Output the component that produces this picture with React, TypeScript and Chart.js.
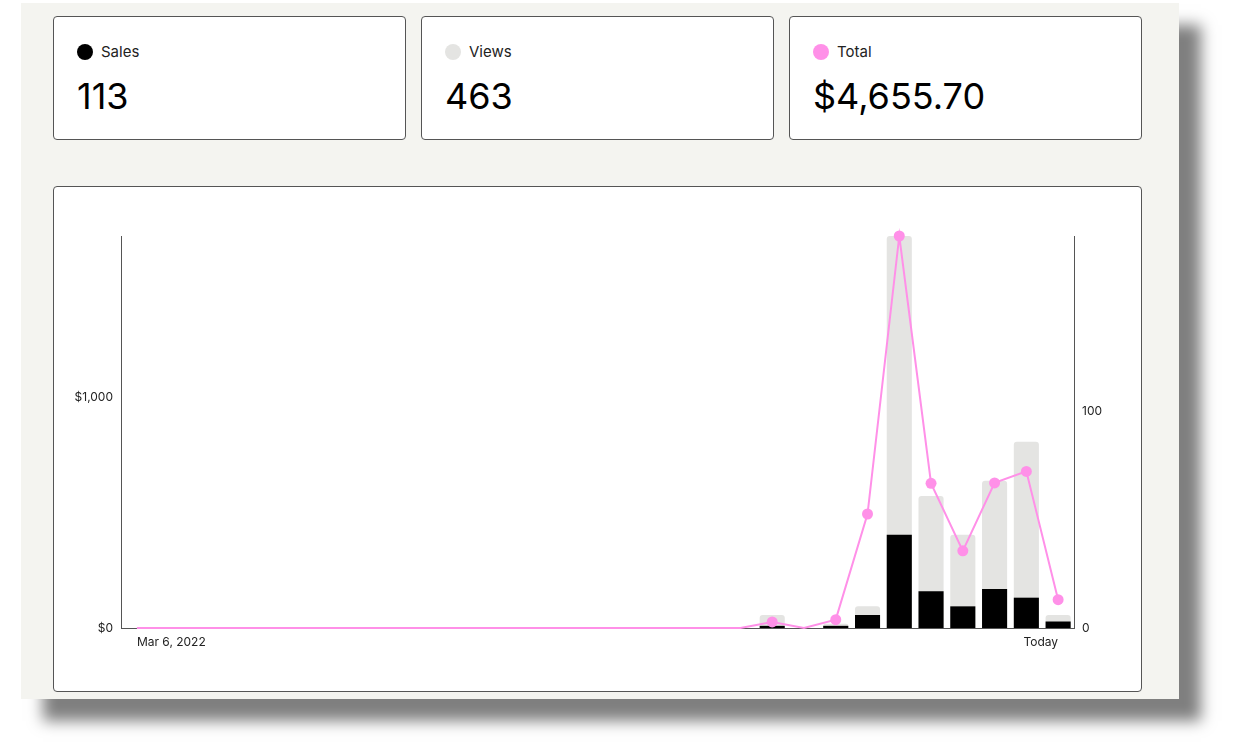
import React, { useEffect, useRef } from "react";
import { Chart, registerables } from "chart.js";

Chart.register(...registerables);

const dateLabels = [
  "Mar 6, 2022", "Mar 7, 2022", "Mar 8, 2022", "Mar 9, 2022", "Mar 10, 2022",
  "Mar 11, 2022", "Mar 12, 2022", "Mar 13, 2022", "Mar 14, 2022", "Mar 15, 2022",
  "Mar 16, 2022", "Mar 17, 2022", "Mar 18, 2022", "Mar 19, 2022", "Mar 20, 2022",
  "Mar 21, 2022", "Mar 22, 2022", "Mar 23, 2022", "Mar 24, 2022", "Mar 25, 2022",
  "Mar 26, 2022", "Mar 27, 2022", "Mar 28, 2022", "Mar 29, 2022", "Mar 30, 2022",
  "Mar 31, 2022", "Apr 1, 2022", "Apr 2, 2022", "Apr 3, 2022", "Today",
];

const views = [
  0, 0, 0, 0, 0, 0, 0, 0, 0, 0,
  0, 0, 0, 0, 0, 0, 0, 0, 0, 0,
  6, 0, 2, 10, 181, 61, 43, 68, 86, 6,
];

const sales = [
  0, 0, 0, 0, 0, 0, 0, 0, 0, 0,
  0, 0, 0, 0, 0, 0, 0, 0, 0, 0,
  1, 0, 1, 6, 43, 17, 10, 18, 14, 3,
];

const totals = [
  0, 0, 0, 0, 0, 0, 0, 0, 0, 0,
  0, 0, 0, 0, 0, 0, 0, 0, 0, 0,
  26.5, 0, 36.2, 495, 1702, 628, 335, 630, 680, 123,
];

const leftTicks = [0, 1000];
const rightTicks = [0, 100];

const cardLabels = ["Sales", "Views", "Total"];
const cardValues = ["113", "463", "$4,655.70"];

const PINK = "#ff90e8";
const GRAY = "#e4e4e2";
const cardDots = ["#000000", GRAY, PINK];

const FONT = "Inter, 'Noto Sans', sans-serif";

export default function App() {
  const ref = useRef<HTMLCanvasElement>(null);

  useEffect(() => {
    const n = dateLabels.length;
    const chart = new Chart(ref.current!, {
      type: "bar",
      data: {
        labels: dateLabels,
        datasets: [
          {
            type: "line",
            label: "Total",
            data: totals,
            yAxisID: "y",
            borderColor: PINK,
            backgroundColor: PINK,
            borderWidth: 2,
            pointRadius: (c: any) => (c.raw > 0 ? 5.5 : 0),
            pointBorderWidth: 0,
            pointBackgroundColor: PINK,
            tension: 0,
            clip: false,
            order: 0,
          } as any,
          {
            type: "bar",
            label: "Sales",
            data: sales,
            yAxisID: "y1",
            backgroundColor: "#000000",
            grouped: false,
            barPercentage: 0.79,
            categoryPercentage: 1,
            order: 1,
          } as any,
          {
            type: "bar",
            label: "Views",
            data: views,
            yAxisID: "y1",
            backgroundColor: GRAY,
            grouped: false,
            barPercentage: 0.79,
            categoryPercentage: 1,
            borderRadius: { topLeft: 3, topRight: 3, bottomLeft: 0, bottomRight: 0 },
            order: 2,
          } as any,
        ],
      },
      options: {
        animation: false,
        responsive: false,
        devicePixelRatio: 1,
        layout: { padding: { top: 49, left: 0, right: 0, bottom: 0 } },
        plugins: { legend: { display: false }, tooltip: { enabled: false } },
        scales: {
          x: {
            type: "category",
            offset: true,
            grid: { display: false, drawTicks: false },
            border: { display: true, color: "#555555", width: 1 },
            ticks: {
              autoSkip: false,
              maxRotation: 0,
              minRotation: 0,
              align: "inner",
              padding: 7,
              color: "#222222",
              font: { family: FONT, size: 12 },
              callback: (_v: any, i: number) =>
                i === 0 || i === n - 1 ? dateLabels[i] : "",
            },
            afterFit: (s: any) => {
              s.height = 63;
            },
          },
          y: {
            position: "left",
            min: 0,
            max: Math.max(...totals),
            grid: { display: false, drawTicks: false },
            border: { display: true, color: "#555555", width: 1 },
            ticks: {
              padding: 8,
              color: "#222222",
              font: { family: FONT, size: 12 },
              callback: (v: any) => "$" + Number(v).toLocaleString("en-US"),
            },
            afterBuildTicks: (s: any) => {
              s.ticks = leftTicks.map((value) => ({ value }));
            },
            afterFit: (s: any) => {
              s.width = 67;
            },
          },
          y1: {
            position: "right",
            min: 0,
            max: Math.max(...views),
            grid: { display: false, drawTicks: false },
            border: { display: true, color: "#555555", width: 1 },
            ticks: {
              padding: 8,
              color: "#222222",
              font: { family: FONT, size: 12 },
              callback: (v: any) => String(v),
            },
            afterBuildTicks: (s: any) => {
              s.ticks = rightTicks.map((value) => ({ value }));
            },
            afterFit: (s: any) => {
              s.width = 67;
            },
          },
        },
      } as any,
    });
    return () => chart.destroy();
  }, []);

  const cardLefts = [53, 421, 789];

  return (
    <div style={{ position: "absolute", left: 0, top: 0, width: 1239, height: 745, background: "#ffffff", fontFamily: FONT }}>
      <div
        style={{
          position: "absolute",
          left: 21,
          top: 3,
          width: 1158,
          height: 696,
          background: "#f4f4f0",
          boxShadow: "22px 22px 14px rgba(0,0,0,0.5)",
        }}
      />
      {cardLabels.map((lab, i) => (
        <div
          key={lab}
          style={{
            position: "absolute",
            left: cardLefts[i],
            top: 16,
            width: 353,
            height: 124,
            boxSizing: "border-box",
            border: "1px solid #555555",
            borderRadius: 4,
            background: "#ffffff",
          }}
        >
          <div style={{ position: "absolute", left: 23, top: 27, display: "flex", alignItems: "center", height: 16 }}>
            <span style={{ width: 16, height: 16, borderRadius: 8, background: cardDots[i], display: "inline-block" }} />
            <span style={{ marginLeft: 8, fontSize: 15, lineHeight: "16px", color: "#222222" }}>{lab}</span>
          </div>
          <div style={{ position: "absolute", left: 23, top: 61, fontSize: 36, lineHeight: "36px", color: "#000000" }}>
            {cardValues[i]}
          </div>
        </div>
      ))}
      <div
        style={{
          position: "absolute",
          left: 53,
          top: 186,
          width: 1089,
          height: 506,
          boxSizing: "border-box",
          border: "1px solid #555555",
          borderRadius: 4,
          background: "#ffffff",
        }}
      >
        <canvas ref={ref} width={1087} height={504} style={{ position: "absolute", left: 0, top: 0, width: 1087, height: 504 }} />
      </div>
    </div>
  );
}
